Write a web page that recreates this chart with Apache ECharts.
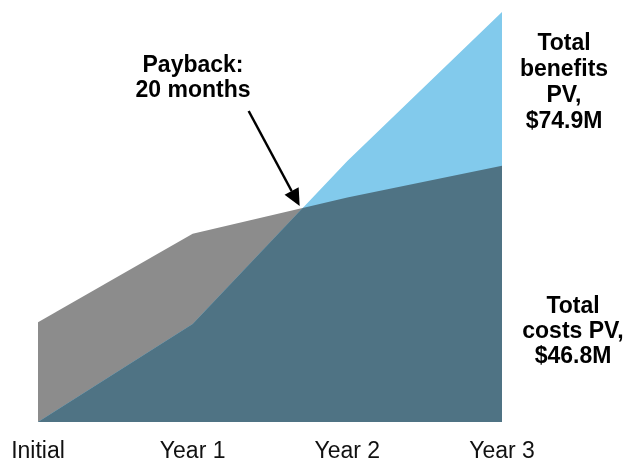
<!DOCTYPE html>
<html>
<head>
<meta charset="utf-8">
<script src="https://cdn.jsdelivr.net/npm/echarts@6/dist/echarts.min.js"></script>
<style>
html,body{margin:0;padding:0;background:#fff;}
#c{width:631px;height:463px;}
</style>
</head>
<body>
<div id="c"></div>
<script>
var categories = ['Initial', 'Year 1', 'Year 2', 'Year 3'];
var costs = [18.2, 34.4, 41.0, 46.8];
var benefits = [0, 17.9, 47.7, 74.9];
var paybackLabel = 'Payback:\n20 months';
var benefitsLabel = 'Total\nbenefits\nPV,\n$74.9M';
var costsLabel = 'Total\ncosts PV,\n$46.8M';

function pts(arr) { return arr.map(function (v, i) { return [i, v]; }); }

// lower envelope (min of both), including the crossover point
var minPts = [];
var crossPt = null;
for (var i = 0; i < categories.length; i++) {
  minPts.push([i, Math.min(costs[i], benefits[i])]);
  if (i < categories.length - 1) {
    var d0 = costs[i] - benefits[i], d1 = costs[i + 1] - benefits[i + 1];
    if (d0 * d1 < 0) {
      var t = d0 / (d0 - d1);
      crossPt = [i + t, costs[i] + t * (costs[i + 1] - costs[i])];
      minPts.push(crossPt);
    }
  }
}

var chart = echarts.init(document.getElementById('c'), null, { renderer: 'canvas' });
var font = 'Liberation Sans, Arial, sans-serif';

function area(name, data, color) {
  return {
    name: name, type: 'line', data: data, symbol: 'none', silent: true,
    lineStyle: { width: 0 }, areaStyle: { color: color, opacity: 1 },
    animation: false
  };
}

chart.setOption({
  animation: false,
  grid: { left: 38, right: 129, top: 12, bottom: 40 },
  xAxis: {
    type: 'value', min: 0, max: 3, interval: 1,
    axisLine: { show: false }, axisTick: { show: false }, splitLine: { show: false },
    axisLabel: {
      margin: 18, fontSize: 23, color: '#111', fontFamily: font,
      formatter: function (v) { return categories[Math.round(v)] || ''; }
    }
  },
  yAxis: { type: 'value', min: 0, max: 74.9, show: false },
  series: [
    area('Total costs', pts(costs), '#8c8c8c'),
    area('Total benefits', pts(benefits), '#82caec'),
    area('Overlap', minPts, '#4f7384')
  ]
});

var cp = chart.convertToPixel({ gridIndex: 0 }, crossPt);
var tip = [cp[0] - 3, cp[1] - 2];
var start = [tip[0] - 51, tip[1] - 95];
var dx = tip[0] - start[0], dy = tip[1] - start[1];
var len = Math.sqrt(dx * dx + dy * dy), ux = dx / len, uy = dy / len;
var headLen = 17, headW = 8;
var base = [tip[0] - ux * headLen, tip[1] - uy * headLen];

function label(text, cx, top, lh) {
  return { type: 'text', x: cx, y: top, style: { text: text, align: 'center', verticalAlign: 'top',
    fontSize: 23, fontWeight: 'bold', lineHeight: lh, fontFamily: font, fill: '#000' } };
}

chart.setOption({
  graphic: [
    { type: 'line', shape: { x1: start[0], y1: start[1], x2: base[0], y2: base[1] },
      style: { stroke: '#000', lineWidth: 2.5 } },
    { type: 'polygon', shape: { points: [tip,
        [base[0] - uy * headW, base[1] + ux * headW],
        [base[0] + uy * headW, base[1] - ux * headW]] },
      style: { fill: '#000' } },
    label(paybackLabel, 193, 53, 25),
    label(benefitsLabel, 564, 31, 26),
    label(costsLabel, 573, 294, 25)
  ]
});
</script>
</body>
</html>
